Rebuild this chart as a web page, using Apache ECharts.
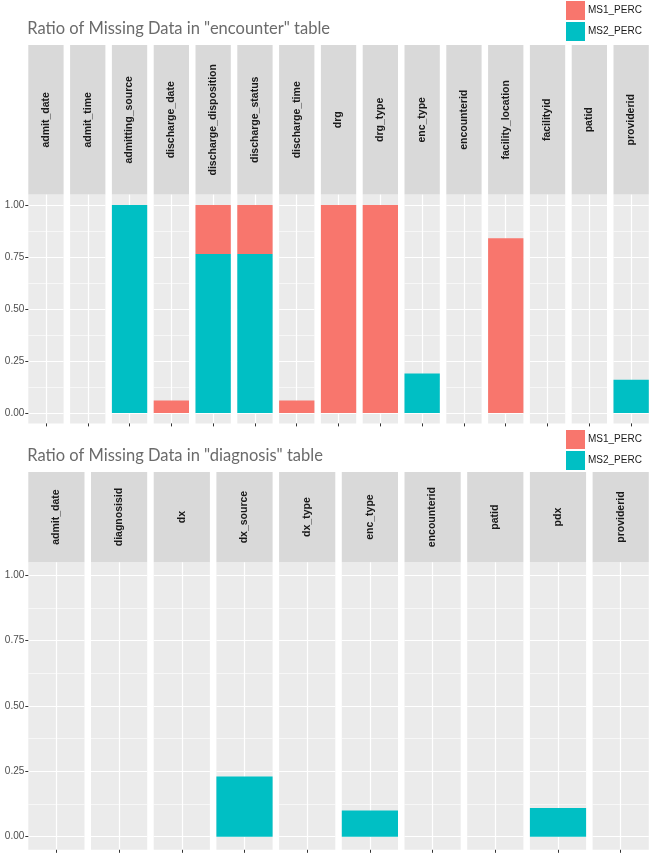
<!DOCTYPE html>
<html><head><meta charset="utf-8">
<script src="https://cdn.jsdelivr.net/npm/echarts@6/dist/echarts.min.js"></script>
<style>html,body{margin:0;padding:0;background:#fff}#c{width:650px;height:855px}</style>
</head><body><div id="c"></div>
<script>
// ---- data ----
const encCategories = ['admit_date','admit_time','admitting_source','discharge_date','discharge_disposition','discharge_status','discharge_time','drg','drg_type','enc_type','encounterid','facility_location','facilityid','patid','providerid'];
const encMS1 = [0,0,0,0.06,0.235,0.235,0.06,1.0,1.0,0,0,0.84,0,0,0];
const encMS2 = [0,0,1.0,0,0.765,0.765,0,0,0,0.19,0,0,0,0,0.16];
const diagCategories = ['admit_date','diagnosisid','dx','dx_source','dx_type','enc_type','encounterid','patid','pdx','providerid'];
const diagMS1 = [0,0,0,0,0,0,0,0,0,0];
const diagMS2 = [0,0,0,0.23,0,0.10,0,0,0.11,0];
const yMajorTicks = [0,0.25,0.5,0.75,1];
const yMinorTicks = [0.125,0.375,0.625,0.875];
const seriesNames = ['MS1_PERC','MS2_PERC'];
const titles = ['Ratio of Missing Data in "encounter" table','Ratio of Missing Data in "diagnosis" table'];

// ---- layout / style ----
const COLORS = {MS1_PERC:'#F8766D', MS2_PERC:'#00BFC4'};
const sections = [
  {cats: encCategories, ms1: encMS1, ms2: encMS2, titleY: 30, legendTop: 1, stripTop: 45, panelTop: 194.6, panelBottom: 423.4},
  {cats: diagCategories, ms1: diagMS1, ms2: diagMS2, titleY: 457, legendTop: 430, stripTop: 472, panelTop: 562.2, panelBottom: 849.8}
];
const plotLeft = 28.3, plotRight = 648.8, gap = 6.5;

const grids = [], xAxes = [], yAxes = [], series = [], graphics = [], titleOpts = [], legends = [];
let idx = 0;
sections.forEach((sec, s) => {
  const n = sec.cats.length;
  const w = (plotRight - plotLeft - gap*(n-1)) / n;
  titleOpts.push({text: titles[s], left: plotLeft - 1, top: sec.titleY - 10, padding: 0,
    textStyle: {fontFamily: 'Lato', fontSize: 16.5, fontWeight: 'normal', color: '#6b6b6b'}});
  legends.push({data: seriesNames, orient: 'vertical', left: 566, top: sec.legendTop, itemWidth: 19, itemHeight: 19,
    itemGap: 2, icon: 'rect', selectedMode: false, padding: 0,
    textStyle: {fontFamily: 'Liberation Sans', fontSize: 10, color: '#1a1a1a', padding: [0,0,0,-2]}});
  sec.cats.forEach((cat, i) => {
    const left = plotLeft + i*(w+gap);
    grids.push({left: left, top: sec.panelTop, width: w, height: sec.panelBottom - sec.panelTop,
      show: true, backgroundColor: '#EBEBEB', borderWidth: 0, containLabel: false});
    xAxes.push({type: 'category', gridIndex: idx, data: [cat], boundaryGap: true, position: 'bottom',
      axisLine: {show: false, onZero: false}, axisLabel: {show: false},
      axisTick: {show: true, alignWithLabel: true, length: 3, lineStyle: {color: '#333', width: 1}},
      splitLine: {show: true, alignWithLabel: true, lineStyle: {color: '#fff', width: 1.2}}});
    const first = i === 0;
    yAxes.push({type: 'value', gridIndex: idx, min: -0.05, max: 1.05,
      axisLine: {show: false, onZero: false},
      axisTick: {show: first, length: 3, customValues: yMajorTicks, lineStyle: {color: '#333', width: 1}},
      axisLabel: {show: first, customValues: yMajorTicks, margin: 4, formatter: v => v.toFixed(2),
        fontFamily: 'Liberation Sans', fontSize: 10, color: '#4d4d4d'},
      splitLine: {show: true, lineStyle: {color: '#fff', width: 1.2}}});
    yAxes.push({type: 'value', gridIndex: idx, min: -0.05, max: 1.05, position: 'right',
      axisLine: {show: false, onZero: false}, axisLabel: {show: false},
      axisTick: {show: false, customValues: yMinorTicks},
      splitLine: {show: true, lineStyle: {color: '#fff', width: 0.6}}});
    series.push({type: 'bar', name: 'MS2_PERC', xAxisIndex: idx, yAxisIndex: 2*idx, stack: 'f'+idx,
      barWidth: '100%', data: [sec.ms2[i]], itemStyle: {color: COLORS.MS2_PERC}, z: 3});
    series.push({type: 'bar', name: 'MS1_PERC', xAxisIndex: idx, yAxisIndex: 2*idx, stack: 'f'+idx,
      barWidth: '100%', data: [sec.ms1[i]], itemStyle: {color: COLORS.MS1_PERC}, z: 3});
    // strip
    graphics.push({type: 'rect', shape: {x: left, y: sec.stripTop, width: w, height: sec.panelTop - sec.stripTop},
      style: {fill: '#D9D9D9'}, silent: true});
    graphics.push({type: 'text', x: left + w/2, y: (sec.stripTop + sec.panelTop)/2, rotation: Math.PI/2,
      style: {text: cat, x: 0, y: 0, align: 'center', verticalAlign: 'middle', textAlign: 'center', textVerticalAlign: 'middle',
        font: 'bold 10.5px "Liberation Sans", Arial, sans-serif', fill: '#1a1a1a'}, silent: true});
    idx++;
  });
});

const chart = echarts.init(document.getElementById('c'), null, {renderer: 'canvas'});
chart.setOption({
  animation: false,
  backgroundColor: '#fff',
  color: [COLORS.MS1_PERC, COLORS.MS2_PERC],
  title: titleOpts,
  legend: legends,
  grid: grids, xAxis: xAxes, yAxis: yAxes, series: series,
  graphic: graphics
});
</script></body></html>
